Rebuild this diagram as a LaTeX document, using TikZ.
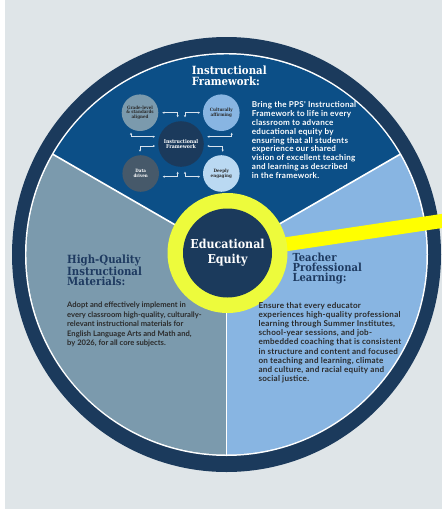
\documentclass[tikz,border=0pt]{standalone}
\usepackage{fontspec}
\usetikzlibrary{arrows.meta,calc}
\newfontfamily\slab{DejaVu Serif}[FakeStretch=0.9]
\newfontfamily\bodyf{Lato}
\newfontfamily\bodyw{Lato}[LetterSpace=3.0]
\definecolor{bgc}{HTML}{DFE5E8}
\definecolor{ringc}{HTML}{1B3A5C}
\definecolor{topc}{HTML}{0C4F87}
\definecolor{leftc}{HTML}{7B9AAD}
\definecolor{rightc}{HTML}{88B5E2}
\definecolor{yelc}{HTML}{EDFB3C}
\definecolor{barc}{HTML}{FFFF00}
\definecolor{ttlc}{HTML}{1E3A60}
\definecolor{datac}{HTML}{46596A}
\definecolor{deepc}{HTML}{BAD9F2}
\definecolor{txtc}{HTML}{2B2B2B}
\definecolor{arrc}{HTML}{D8E3EE}
\begin{document}
\begin{tikzpicture}[x=1pt,y=-1pt,
  ttl/.style={anchor=north west, inner sep=0pt, align=left, text=ttlc},
  bodytxt/.style={anchor=north west, inner sep=0pt, align=left, text=txtc},
  mc/.style={circle, inner sep=0pt, minimum size=36.6pt, align=center,
    font=\slab\bfseries\fontsize{4.5}{4.8}\selectfont},
  mini/.style={draw=arrc, line width=0.7pt,
    {Stealth[length=2.2pt,width=2.2pt]}-{Stealth[length=2.2pt,width=2.2pt]}},
  divider/.style={draw=white, line width=1.6pt}]
\useasboundingbox (0,0) rectangle (442,509);
\fill[white] (0,0) rectangle (442,509);
\fill[bgc] (5,0) rectangle (442,509);
\coordinate (c) at (226.5,254.5);
% outer ring and sectors
\fill[ringc] (c) ellipse [x radius=214.5, y radius=217.5];
\fill[white] (c) circle[radius=201.5];
\fill[topc] (c) -- ++(-30:200) arc[start angle=-30, end angle=-150, radius=200] -- cycle;
\fill[leftc] (c) -- ++(-150:200) arc[start angle=-150, end angle=-270, radius=200] -- cycle;
\fill[rightc] (c) -- ++(-270:200) arc[start angle=-270, end angle=-390, radius=200] -- cycle;
\coordinate (d1) at ($(c)+(-30:200.5)$);
\coordinate (d2) at ($(c)+(-150:200.5)$);
\coordinate (d3) at ($(c)+(90:200.5)$);
\draw[divider] (c) -- (d1);
\draw[divider] (c) -- (d2);
\draw[divider] (c) -- (d3);
% yellow bar and centre
\coordinate (ctr) at (227.5,253);
\coordinate (barend) at ($(ctr)+(-8.5:245)$);
\draw[barc, line width=14pt] (ctr) -- (barend);
\node[circle, fill=yelc, minimum size=120pt, inner sep=0pt] (yr) at (ctr) {};
\node[circle, fill=ringc, minimum size=89pt, inner sep=0pt, text=white, align=center,
  font=\slab\bfseries\fontsize{12.3}{15}\selectfont] (eq) at (ctr) {Educational\\Equity};
% titles
\node[ttl, text=white, font=\slab\bfseries\fontsize{11.3}{10.7}\selectfont] (tift) at (191.7,65.7) {Instructional\\Framework:};
\node[ttl, font=\slab\bfseries\fontsize{11.3}{10}\selectfont] (thq) at (67,254.7) {High-Quality\\Instructional\\Materials:};
\node[ttl, font=\slab\bfseries\fontsize{11.1}{9.6}\selectfont] (ttp) at (292.3,253.3) {Teacher\\Professional\\Learning:};
% body texts
\node[bodytxt, text=white, font=\bodyw\bfseries\fontsize{8.1}{8.85}\selectfont] (bif) at (251.7,101.4)
 {Bring the PPS' Instructional\\Framework to life in every\\classroom to advance\\educational equity by\\ensuring that all students\\experience our shared\\vision of excellent teaching\\and learning as described\\in the framework.};
\node[bodytxt, font=\bodyf\bfseries\fontsize{7.6}{9.4}\selectfont] (bhq) at (67,302.1)
 {Adopt and effectively implement in\\every classroom high-quality, culturally-\\relevant instructional materials for\\English Language Arts and Math and,\\by 2026, for all core subjects.};
\node[bodytxt, font=\bodyw\bfseries\fontsize{8.1}{9.2}\selectfont] (btp) at (258.3,301.8)
 {Ensure that every educator\\experiences high-quality professional\\learning through Summer Institutes,\\school-year sessions, and job-\\embedded coaching that is consistent\\in structure and content and focused\\on teaching and learning, climate\\and culture, and racial equity and\\social justice.};
% mini diagram
\node[mc, fill=leftc, text=txtc] (g) at (140,112.7) {Grade-level\\\& standards\\aligned};
\node[mc, fill=rightc, text=txtc] (cu) at (221.3,112.7) {Culturally\\affirming};
\node[mc, fill=ringc, text=white, minimum size=45.6pt, font=\slab\bfseries\fontsize{5.2}{5.7}\selectfont] (if) at (181,144) {Instructional\\Framework};
\node[mc, fill=datac, text=white] (dd) at (140.7,173.5) {Data\\driven};
\node[mc, fill=deepc, text=txtc] (de) at (221.3,173.5) {Deeply\\engaging};
\draw[mini] ($(g)+(22.3,0)$) -| ($(if)+(-3.3,-26.7)$);
\draw[mini] ($(if)+(4,-26.7)$) |- ($(cu)+(-21.3,0)$);
\draw[mini] ($(g)+(-9,20)$) |- ($(if)+(-26,-7.3)$);
\draw[mini] ($(if)+(26.3,-7.3)$) -| ($(cu)+(10.4,20)$);
\draw[mini] ($(dd)+(-0.7,-21.8)$) |- ($(if)+(-26,2)$);
\draw[mini] ($(if)+(26.3,2)$) -| ($(de)+(1.4,-21.8)$);
\draw[mini] ($(dd)+(22,3.2)$) -| ($(if)+(-3.3,27.7)$);
\draw[mini] ($(if)+(4,27.7)$) |- ($(de)+(-21.3,3.2)$);
\end{tikzpicture}
\end{document}
